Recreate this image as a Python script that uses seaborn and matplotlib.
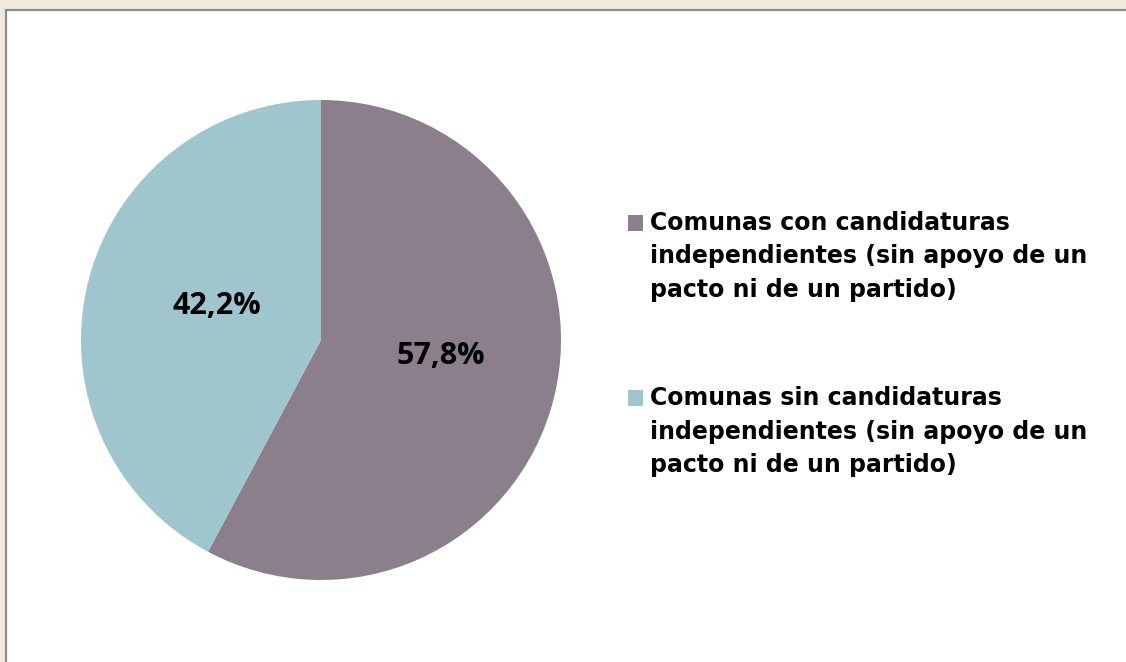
import matplotlib
matplotlib.use("Agg")
import matplotlib.pyplot as plt
import matplotlib.patches as mpatches
import seaborn as sns

# data
labels = [
    "Comunas con candidaturas\nindependientes (sin apoyo de un\npacto ni de un partido)",
    "Comunas sin candidaturas\nindependientes (sin apoyo de un\npacto ni de un partido)",
]
shares = [57.8, 42.2]
colors = ["#8B7F8C", "#9FC6CE"]

sns.set_theme(style="white")
plt.rcParams["font.family"] = ["DejaVu Sans"]

W, H = 1126, 662
fig = plt.figure(figsize=(W / 100, H / 100), dpi=100, facecolor="#F1E9DD")

# white panel with grey border (top/left visible)
panel = mpatches.Rectangle((6 / W, -0.1), 1.2, 1 - 10 / H + 0.1,
                           transform=fig.transFigure, facecolor="white",
                           edgecolor="#8C8C8C", linewidth=1.6, zorder=-1)
fig.patches.append(panel)

# pie axes: centre ~ (321, 340) px, radius ~240 px
cx, cy, r = 321, 340, 240
ax = fig.add_axes([(cx - r) / W, (H - cy - r) / H, 2 * r / W, 2 * r / H])
ax.set_zorder(1)
ax.set_facecolor("none")

wedges, texts, autotexts = ax.pie(
    shares, colors=colors, startangle=90, counterclock=False,
    autopct=lambda p: f"{p:.1f}%".replace(".", ","), pctdistance=0.48,
    wedgeprops=dict(linewidth=0), radius=1,
)
# small nudge of the labels towards where the original puts them
nudges = [(0.035, 0.05), (0.03, 0.025)]
for t, (dx, dy) in zip(autotexts, nudges):
    x, y = t.get_position()
    t.set_position((x + dx, y + dy))
    t.set_fontfamily("Open Sans")
    t.set_fontweight("bold")
    t.set_fontsize(22)
    t.set_color("black")
ax.set_xlim(-1, 1)
ax.set_ylim(-1, 1)
ax.set_aspect("equal")
ax.axis("off")

leg = fig.legend(wedges, labels, loc="upper left",
                 bbox_to_anchor=(628 / W, 1 - 211 / H),
                 frameon=False, prop=dict(family="DejaVu Sans", weight="bold", size=17),
                 handlelength=0.65, handleheight=0.65, handletextpad=0.28,
                 labelspacing=3.57, borderaxespad=0, borderpad=0)
leg.set_zorder(2)
for t in leg.get_texts():
    t.set_linespacing(1.5)
    t.set_color("black")
# put the square beside the first line of each label
for p in leg.get_patches():
    p.set_y(p.get_y() + 25)

fig.savefig("out.png", dpi=100, facecolor=fig.get_facecolor())
